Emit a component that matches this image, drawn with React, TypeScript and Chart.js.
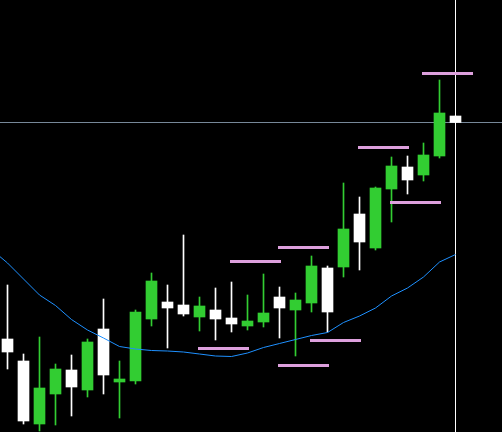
import React, { useEffect, useRef } from "react";
import { Chart, registerables } from "chart.js";

Chart.register(...registerables);

// Candle data (price in chart points; higher = up)
const candleIndex = [0, 1, 2, 3, 4, 5, 6, 7, 8, 9, 10, 11, 12, 13, 14, 15, 16, 17, 18, 19, 20, 21, 22, 23, 24, 25, 26, 27, 28];
const opens = [93, 71, 8, 38, 62, 42, 103, 50, 51, 113, 130, 127, 115, 122, 114, 106, 110, 135, 122, 129, 164, 165, 218, 184, 243, 265, 257, 276, 316];
const highs = [147, 78, 95, 68, 77, 93, 133, 71, 122, 159, 147, 197, 135, 144, 150, 137, 158, 145, 139, 176, 166, 249, 235, 245, 275, 276, 289, 352, 316];
const lows = [63, 8, 1, 7, 16, 35, 38, 14, 48, 106, 84, 116, 101, 92, 100, 102, 105, 94, 76, 120, 100, 155, 162, 182, 210, 238, 251, 274, 309.5];
const closes = [80, 11, 44, 63, 45, 90, 57, 53, 120, 151, 124, 118, 126, 113, 108, 111, 119, 124, 132, 166, 120, 203, 190, 244, 266, 252, 277, 319, 309.5];

// Moving average (first point belongs to the bar before the visible window)
const maIndex = [-1, 0, 1, 2, 3, 4, 5, 6, 7, 8, 9, 10, 11, 12, 13, 14, 15, 16, 17, 18, 19, 20, 21, 22, 23, 24, 25, 26, 27, 28];
const maValues = [182.5, 169, 153, 137, 126.5, 112.5, 102, 94, 85.5, 83, 81.5, 81, 80, 78, 76, 75.5, 79, 84.5, 88.5, 92.5, 96.5, 99.5, 109.5, 116, 124, 136, 144, 155, 170, 177.5];

// Horizontal level segments
const levelValues = [184.5, 170.5, 83.5, 91.5, 66.5, 358.5, 284.5, 229.5];
const levelStart = [17, 14, 12, 19, 17, 26, 22, 24];
const levelEnd = [20, 17, 15, 22, 20, 29, 25, 27];

// Current bid and vertical marker
const bidPrice = 309.5;
const markerIndex = 28;

const priceMin = 0;
const priceMax = 432;

const GREEN = "#32CD32";
const WHITE = "#FFFFFF";

export default function App() {
  const canvasRef = useRef<HTMLCanvasElement | null>(null);

  useEffect(() => {
    const canvas = canvasRef.current;
    if (!canvas) return;
    const colors = candleIndex.map((_, i) => (closes[i] >= opens[i] ? GREEN : WHITE));

    const levelSets = levelValues.map((v, i) => ({
      type: "line" as const,
      data: [
        { x: levelStart[i], y: v },
        { x: levelEnd[i], y: v },
      ],
      borderColor: "#DDA0DD",
      borderWidth: 3,
      borderCapStyle: "square" as const,
      pointRadius: 0,
      order: 1,
    }));

    const chart = new Chart(canvas, {
      type: "bar",
      data: {
        datasets: [
          {
            type: "line",
            data: [
              { x: -1, y: bidPrice },
              { x: 40, y: bidPrice },
            ],
            borderColor: "#778899",
            borderWidth: 1,
            pointRadius: 0,
            order: 20,
          },
          {
            type: "line",
            data: [
              { x: markerIndex, y: priceMin - 10 },
              { x: markerIndex, y: priceMax + 10 },
            ],
            borderColor: "#FFFFFF",
            borderWidth: 1,
            pointRadius: 0,
            order: 19,
          },
          {
            type: "bar",
            data: candleIndex.map((k, i) => ({ x: k, y: [lows[i], highs[i]] })),
            backgroundColor: colors,
            borderWidth: 0,
            barThickness: 1,
            grouped: false,
            order: 6,
          },
          {
            type: "bar",
            data: candleIndex.map((k, i) => ({ x: k, y: [opens[i], closes[i]] })),
            backgroundColor: colors,
            borderWidth: 0,
            barThickness: 11,
            grouped: false,
            order: 5,
          },
          {
            type: "line",
            data: maIndex.map((k, i) => ({ x: k, y: maValues[i] })),
            borderColor: "#1E90FF",
            borderWidth: 1,
            pointRadius: 0,
            tension: 0,
            order: 2,
          },
          ...levelSets,
        ] as any,
      },
      options: {
        animation: false,
        responsive: false,
        maintainAspectRatio: false,
        devicePixelRatio: 1,
        events: [],
        layout: { padding: 0 },
        plugins: {
          legend: { display: false },
          tooltip: { enabled: false },
          title: { display: false },
        },
        scales: {
          x: {
            type: "linear",
            display: false,
            offset: false,
            min: -7.5 / 16,
            max: 502 / 16 - 7.5 / 16,
          },
          y: {
            type: "linear",
            display: false,
            min: priceMin,
            max: priceMax,
          },
        },
      } as any,
    });
    return () => chart.destroy();
  }, []);

  return (
    <div
      style={{
        position: "fixed",
        left: 0,
        top: 0,
        width: 502,
        height: 432,
        background: "#000000",
      }}
    >
      <canvas ref={canvasRef} width={502} height={432} style={{ display: "block", width: 502, height: 432 }} />
    </div>
  );
}
